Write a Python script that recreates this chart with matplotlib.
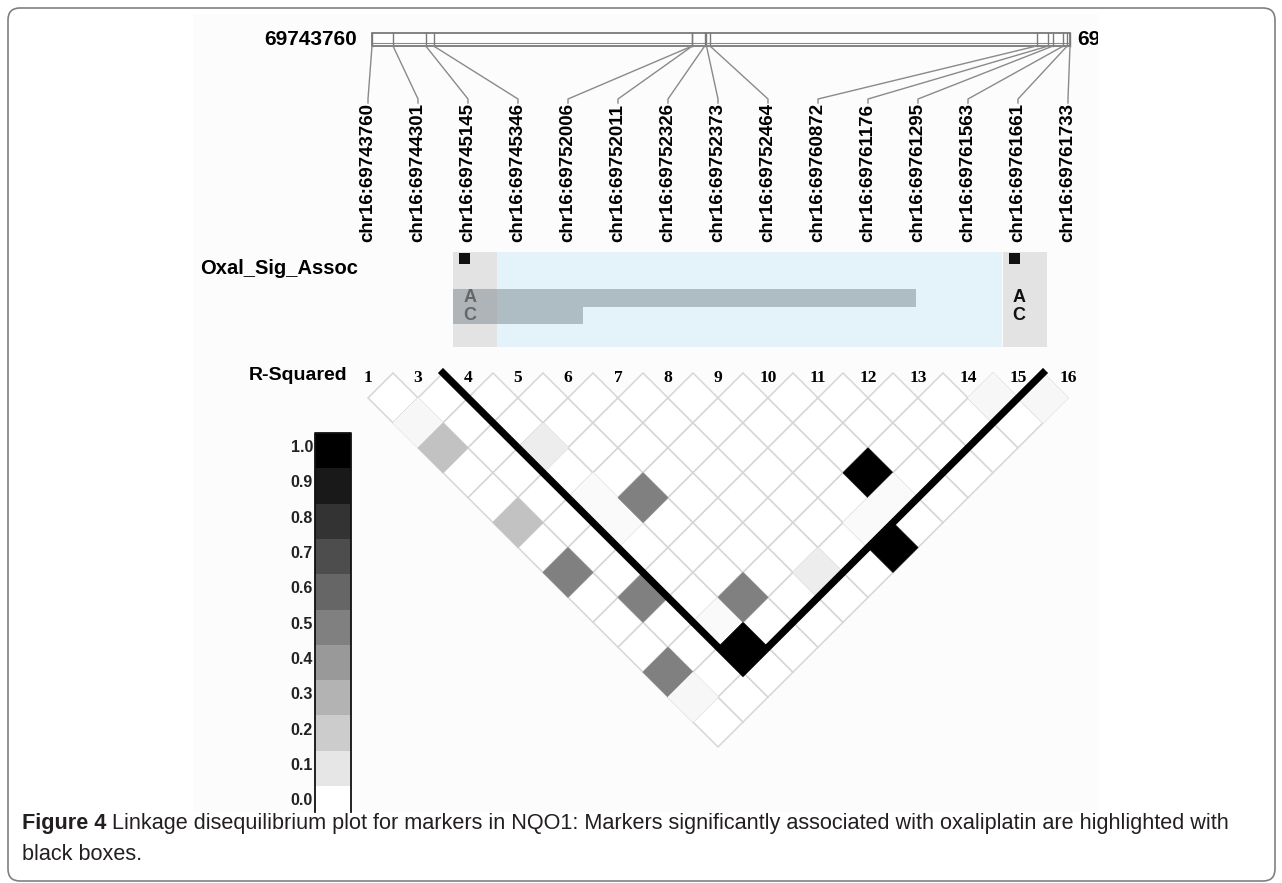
import matplotlib
matplotlib.use("Agg")
import matplotlib.pyplot as plt
from matplotlib.patches import Polygon, Rectangle, FancyBboxPatch

# markers on chr16 (NQO1) and the numbers used in the LD triangle
positions = [69743760, 69744301, 69745145, 69745346, 69752006, 69752011,
             69752326, 69752373, 69752464, 69760872, 69761176, 69761295,
             69761563, 69761661, 69761733]
marker_nums = [1, 3, 4, 5, 6, 7, 8, 9, 10, 11, 12, 13, 14, 15, 16]

# non-zero pairwise r-squared (marker index i, marker index j, r2)
ld_i = [0, 0, 0, 0, 0, 0, 1, 2, 2, 2, 2, 2, 3, 3, 5, 7, 7, 8, 8, 12, 13]
ld_j = [2, 3, 6, 8, 12, 13, 10, 5, 7, 8, 12, 13, 8, 12, 13, 13, 14, 12, 13, 13, 14]
ld_r2 = [0.03, 0.24, 0.24, 0.50, 0.50, 0.03, 0.50, 0.07, 0.02, 0.02, 0.02, 1.00,
         0.50, 0.50, 0.07, 0.02, 1.00, 1.00, 0.02, 0.03, 0.03]

# block outlined in black (first and last marker index)
block = (2, 13)

# markers significantly associated with oxaliplatin, allele frequencies
sig_markers = [2, 13]
alleles = ["A", "C"]
allele_freq = [0.78, 0.22]

legend_vals = [1.0, 0.9, 0.8, 0.7, 0.6, 0.5, 0.4, 0.3, 0.2, 0.1, 0.0]

caption_bold = "Figure 4"
caption_rest = ("Linkage disequilibrium plot for markers in NQO1: Markers significantly "
                "associated with oxaliplatin are highlighted with")
caption_line2 = "black boxes."

# ---- layout (pixels) ----
X0, S = 368, 50          # first marker x, marker spacing
T, H = 373, 24.93        # triangle top, half height of a diamond
BAR_L, BAR_R = 372, 1070 # genomic bar
def xk(k):
    return X0 + S * k

fig = plt.figure(figsize=(12.82, 8.83), dpi=100)
ax = fig.add_axes([0, 0, 1, 1])
ax.set_xlim(0, 1282)
ax.set_ylim(883, 0)
ax.axis("off")

ax.add_patch(FancyBboxPatch((8, 8), 1267, 873, boxstyle="round,pad=0,rounding_size=12",
                            fc="white", ec="#808080", lw=1.2))
ax.add_patch(Rectangle((193, 14), 905, 798, fc="#fcfcfc", ec="none"))

sans = ["Liberation Sans", "DejaVu Sans"]

# ---- genomic bar ----
p0, p1 = positions[0], positions[-1]
ax.add_patch(Rectangle((BAR_L, 33), BAR_R - BAR_L, 12.5, fc="white", ec="#6e6e6e", lw=1.2))
ax.plot([BAR_L, BAR_R], [43, 43], color="#8a8a8a", lw=0.8)
ax.text(357, 39.5, str(p0), ha="right", va="center", fontsize=15, weight="bold", family=sans)
clip = Rectangle((0, 0), 1098, 883, transform=ax.transData)
t = ax.text(1077, 39.5, str(p1), ha="left", va="center", fontsize=15, weight="bold", family=sans)
t.set_clip_on(True)
t.set_clip_path(clip)

for k, p in enumerate(positions):
    gx = BAR_L + (p - p0) / (p1 - p0) * (BAR_R - BAR_L)
    ax.plot([gx, gx], [33, 45.5], color="#7a7a7a", lw=1.0)
    ax.plot([gx, xk(k), xk(k)], [46, 99, 103], color="#8a8a8a", lw=1.0)
    ax.text(xk(k), 242, "chr16:%d" % p, rotation=90, ha="center", va="bottom",
            fontsize=13.5, weight="bold", family=sans)

# ---- association track ----
ax.text(358, 268, "Oxal_Sig_Assoc", ha="right", va="center", fontsize=14.5, weight="bold", family=sans)
ty0, ty1 = 252, 347
left = xk(sig_markers[0]) - 15
right = xk(sig_markers[-1]) + 28
ax.add_patch(Rectangle((left + 44, ty0), (right - 44) - (left + 44), ty1 - ty0, fc="#e4f2f9", ec="none"))
for k in sig_markers:
    ax.add_patch(Rectangle((xk(k) - 15, ty0), 44, ty1 - ty0, fc="#e3e3e3", ec="none"))
    ax.add_patch(Rectangle((xk(k) - 9, 253), 11, 11, fc="#111111", ec="none"))
for n, (a, f) in enumerate(zip(alleles, allele_freq)):
    y = 289 + n * 17.5
    ax.add_patch(Rectangle((left, y), f * (right - left), 17.5, fc="#6e7c84", alpha=0.45, ec="none"))
    ax.text(xk(sig_markers[0]) + 2, y + 9, a, ha="center", va="center", fontsize=13,
            weight="bold", color="#666666", family=sans)
    ax.text(xk(sig_markers[-1]) + 1, y + 9, a, ha="center", va="center", fontsize=13,
            weight="bold", color="#111111", family=sans)

# ---- LD triangle ----
ax.text(347, 376, "R-Squared", ha="right", va="center", fontsize=14, weight="bold", family=sans)
for k, m in enumerate(marker_nums):
    ax.text(xk(k), 378, str(m), ha="center", va="center", fontsize=12.5, weight="bold",
            family=["Liberation Serif", "DejaVu Serif"])

def diamond(i, j):
    cx = (xk(i) + xk(j)) / 2
    cy = T + (j - i) * H
    return [(cx - S / 2, cy), (cx, cy - H), (cx + S / 2, cy), (cx, cy + H)]

n = len(positions)
for i in range(n):
    for j in range(i + 1, n):
        ax.add_patch(Polygon(diamond(i, j), closed=True, fc="white", ec="#d6d6d6", lw=1.1))
for i, j, r in zip(ld_i, ld_j, ld_r2):
    g = str(1 - r)
    ax.add_patch(Polygon(diamond(i, j), closed=True, fc=g, ec=g, lw=0.5))

bi, bj = block
d = diamond(bi, bj)
ox = [xk(bi) - S / 2, d[0][0], d[3][0], d[2][0], xk(bj) + S / 2]
oy = [T, d[0][1], d[3][1], d[2][1], T]
ax.plot(ox, oy, color="black", lw=5.2, solid_joinstyle="miter")

# ---- legend ----
bx, bw, by0, bh = 315, 36, 433, 35.3
for n_, v in enumerate(legend_vals):
    y = by0 + n_ * bh
    ax.add_patch(Rectangle((bx, y), bw, min(bh, 812 - y), fc=str(1 - v), ec="none"))
    ax.text(313, y + bh / 2 - 3, "%.1f" % v, ha="right", va="center", fontsize=11.5,
            weight="bold", family=sans, color="#222222")
ax.plot([bx, bx, bx + bw, bx + bw], [812, by0, by0, 812], color="#111111", lw=1.3)

# ---- caption ----
cap_fam = ["Liberation Sans Narrow", "Liberation Sans"]
fs = 15
t1 = ax.text(22, 829, caption_bold, fontsize=fs, weight="bold", family=cap_fam,
             va="baseline", color="#231f20")
t2 = ax.text(100, 829, caption_rest, fontsize=fs, family=cap_fam, va="baseline", color="#231f20")
t3 = ax.text(22, 860, caption_line2, fontsize=fs, family=cap_fam, va="baseline", color="#231f20")
for _ in range(3):
    fig.canvas.draw()
    r = fig.canvas.get_renderer()
    b1 = t1.get_window_extent(r)
    t2.set_x(b1.x1 + fs * 0.33)
    fig.canvas.draw()
    b2 = t2.get_window_extent(r)
    fs = fs * (1230 - 22) / (b2.x1 - 22)
    for t_ in (t1, t2, t3):
        t_.set_fontsize(fs)

fig.savefig("out.png", dpi=100)
